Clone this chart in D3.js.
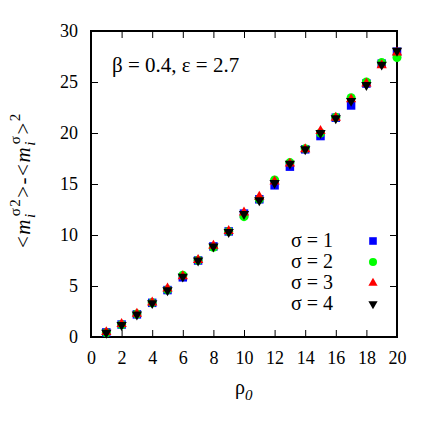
<!DOCTYPE html>
<html>
<head>
<meta charset="utf-8">
<script src="https://cdn.jsdelivr.net/npm/d3@7"></script>
<style>
  body { margin: 0; background: #fff; }
  text { font-family: "Liberation Serif", Tinos, "Times New Roman", Times, "DejaVu Serif", serif; fill: #000; }
</style>
</head>
<body>
<svg id="chart"></svg>
<script>
// values
const rho = [1, 2, 3, 4, 5, 6, 7, 8, 9, 10, 11, 12, 13, 14, 15, 16, 17, 18, 19, 20];
const sigma1 = [0.45, 1.22, 2.22, 3.35, 4.60, 5.85, 7.50, 8.88, 10.35, 12.10, 13.50, 14.87, 16.70, 18.40, 19.70, 21.50, 22.70, 24.85, 26.80, 27.97];
const sigma2 = [0.42, 1.20, 2.25, 3.35, 4.62, 6.05, 7.52, 8.80, 10.35, 11.80, 13.50, 15.40, 17.10, 18.45, 20.00, 21.55, 23.46, 25.00, 26.90, 27.40];
const sigma3 = [0.48, 1.28, 2.28, 3.38, 4.75, 5.95, 7.55, 8.95, 10.40, 12.20, 13.75, 15.25, 17.00, 18.40, 20.20, 21.50, 23.30, 24.85, 26.65, 27.90];
const sigma4 = [0.42, 1.18, 2.20, 3.32, 4.58, 5.92, 7.50, 8.88, 10.30, 12.05, 13.40, 15.10, 17.00, 18.40, 20.00, 21.45, 23.15, 24.70, 26.70, 28.07];
const xTicks = [0, 2, 4, 6, 8, 10, 12, 14, 16, 18, 20];
const yTicks = [0, 5, 10, 15, 20, 25, 30];
const seriesNames = ["σ = 1", "σ = 2", "σ = 3", "σ = 4"];

const width = 436, height = 436;
const margin = {left: 91, right: 39, top: 31, bottom: 99};

const svg = d3.select("#chart").attr("width", width).attr("height", height);

const x = d3.scaleLinear().domain([0, 20]).range([margin.left, width - margin.right]);
const y = d3.scaleLinear().domain([0, 30]).range([height - margin.bottom, margin.top]);

// axes: ticks point inward, mirrored on top and right
function styleAxis(g) {
  g.attr("font-family", null);
  g.select(".domain").remove();
  g.selectAll(".tick line").attr("stroke", "#000").attr("stroke-width", 1);
  g.selectAll(".tick text").attr("font-size", 18);
}
svg.append("g")
  .attr("transform", `translate(0,${y(0)})`)
  .call(d3.axisBottom(x).tickValues(xTicks).tickSize(-7).tickPadding(14))
  .call(styleAxis);
svg.append("g")
  .attr("transform", `translate(0,${y(30)})`)
  .call(d3.axisTop(x).tickValues(xTicks).tickSize(-7).tickFormat(""))
  .call(styleAxis);
svg.append("g")
  .attr("transform", `translate(${x(0)},0)`)
  .call(d3.axisLeft(y).tickValues(yTicks).tickSize(-7).tickPadding(13))
  .call(styleAxis);
svg.append("g")
  .attr("transform", `translate(${x(20)},0)`)
  .call(d3.axisRight(y).tickValues(yTicks).tickSize(-7).tickFormat(""))
  .call(styleAxis);

svg.append("rect")
  .attr("x", x(0)).attr("y", y(30))
  .attr("width", x(20) - x(0)).attr("height", y(0) - y(30))
  .attr("fill", "none").attr("stroke", "#000").attr("stroke-width", 2);

// markers
const series = [
  {name: seriesNames[0], values: sigma1, color: "#0000ff", symbol: d3.symbolSquare, size: 72, rot: 0},
  {name: seriesNames[1], values: sigma2, color: "#00ff00", symbol: d3.symbolCircle, size: 64, rot: 0},
  {name: seriesNames[2], values: sigma3, color: "#ff0000", symbol: d3.symbolTriangle, size: 46, rot: 0},
  {name: seriesNames[3], values: sigma4, color: "#000000", symbol: d3.symbolTriangle, size: 46, rot: 180}
];

series.forEach(s => {
  const path = d3.symbol().type(s.symbol).size(s.size)();
  svg.append("g").selectAll("path")
    .data(rho.map((r, i) => [r, s.values[i]]))
    .enter().append("path")
      .attr("d", path)
      .attr("fill", s.color)
      .attr("transform", d => `translate(${x(d[0])},${y(d[1])}) rotate(${s.rot})`);
});

// legend
const legend = svg.append("g");
series.forEach((s, i) => {
  const cy = 241 + i * 21;
  legend.append("text")
    .attr("x", 333).attr("y", cy + 6)
    .attr("text-anchor", "end")
    .attr("font-size", 20)
    .text(s.name);
  legend.append("path")
    .attr("d", d3.symbol().type(s.symbol).size(s.size * 0.8)())
    .attr("fill", s.color)
    .attr("transform", `translate(373,${cy}) rotate(${s.rot})`);
});

// annotation
svg.append("text")
  .attr("x", 112).attr("y", 72)
  .attr("font-size", 21)
  .text("β = 0.4, ε = 2.7");

// x label
const xl = svg.append("text")
  .attr("x", 235).attr("y", 394)
  .attr("font-size", 20);
xl.append("tspan").text("ρ");
xl.append("tspan").attr("font-size", 15).attr("font-style", "italic").attr("dy", 6).text("0");

// y label
const yl = svg.append("text")
  .attr("transform", "translate(30,248) rotate(-90)")
  .attr("font-size", 21)
  .attr("letter-spacing", 1.5);
yl.append("tspan").text("<");
yl.append("tspan").attr("font-style", "italic").text("m");
yl.append("tspan").attr("font-style", "italic").attr("font-size", 15).attr("dy", 5).text("i");
yl.append("tspan").attr("font-size", 15).attr("dx", -4).attr("dy", -15).text("σ2");
yl.append("tspan").attr("dy", 10).text(">-<");
yl.append("tspan").attr("font-style", "italic").text("m");
yl.append("tspan").attr("font-style", "italic").attr("font-size", 15).attr("dy", 5).text("i");
yl.append("tspan").attr("font-size", 15).attr("dx", -4).attr("dy", -15).text("σ");
yl.append("tspan").attr("dy", 10).text(">");
yl.append("tspan").attr("font-size", 15).attr("dy", -10).text("2");
</script>
</body>
</html>
